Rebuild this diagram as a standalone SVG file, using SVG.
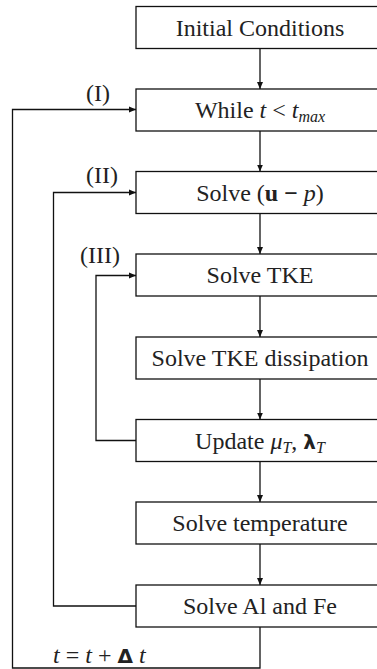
<svg xmlns="http://www.w3.org/2000/svg" width="377" height="669" viewBox="0 0 377 669">
<style>
.box{fill:#fff;stroke:#111;stroke-width:1.3}
text{font-family:"Liberation Serif","Times New Roman",serif;fill:#222}
.lbl{font-size:24px;text-anchor:middle}
.side{font-size:24px}
.it{font-style:italic}
.bf{font-weight:bold}
.sub{font-size:16px;font-style:italic}
.sym{font-family:"DejaVu Sans",sans-serif;font-weight:bold;font-size:20px}
.conn{fill:none;stroke:#111;stroke-width:1.3}
</style>
<defs>
<marker id="ah" markerWidth="8" markerHeight="8" refX="7" refY="4" orient="auto" markerUnits="userSpaceOnUse">
<path d="M0,1 L7,4 L0,7 Z" fill="#111"/>
</marker>
</defs>
<g id="connectors">
<line class="conn" x1="260" y1="48.5" x2="260" y2="89" marker-end="url(#ah)"/>
<line class="conn" x1="260" y1="131" x2="260" y2="171.5" marker-end="url(#ah)"/>
<line class="conn" x1="260" y1="213.5" x2="260" y2="254" marker-end="url(#ah)"/>
<line class="conn" x1="260" y1="296" x2="260" y2="337" marker-end="url(#ah)"/>
<line class="conn" x1="260" y1="379" x2="260" y2="419.5" marker-end="url(#ah)"/>
<line class="conn" x1="260" y1="461.5" x2="260" y2="502" marker-end="url(#ah)"/>
<line class="conn" x1="260" y1="544" x2="260" y2="585" marker-end="url(#ah)"/>
<polyline class="conn" points="260,627 260,668 12.5,668 12.5,109.5 136,109.5" marker-end="url(#ah)"/>
<polyline class="conn" points="136,606 53.5,606 53.5,192.5 136,192.5" marker-end="url(#ah)"/>
<polyline class="conn" points="136,440.5 96,440.5 96,275.5 136,275.5" marker-end="url(#ah)"/>
</g>
<g id="n1"><rect class="box" x="136" y="6.5" width="250" height="42"/><text class="lbl" x="260" y="35.5">Initial Conditions</text></g>
<g id="n2"><rect class="box" x="136" y="89" width="250" height="42"/><text class="lbl" x="260" y="118">While <tspan class="it">t</tspan> &lt; <tspan class="it">t</tspan><tspan class="sub" dy="4">max</tspan></text></g>
<g id="n3"><rect class="box" x="136" y="171.5" width="250" height="42"/><text class="lbl" x="260" y="200.5">Solve (<tspan class="bf">u −</tspan> <tspan class="it">p</tspan>)</text></g>
<g id="n4"><rect class="box" x="136" y="254" width="250" height="42"/><text class="lbl" x="260" y="283">Solve TKE</text></g>
<g id="n5"><rect class="box" x="136" y="337" width="250" height="42"/><text class="lbl" x="260" y="366">Solve TKE dissipation</text></g>
<g id="n6"><rect class="box" x="136" y="419.5" width="250" height="42"/><text class="lbl" x="260" y="448.5">Update <tspan class="it">μ</tspan><tspan class="sub" dy="4">T</tspan><tspan dy="-4">, </tspan><tspan class="sym" font-size="21">λ</tspan><tspan class="sub" dy="4">T</tspan></text></g>
<g id="n7"><rect class="box" x="136" y="502" width="250" height="42"/><text class="lbl" x="260" y="531">Solve temperature</text></g>
<g id="n8"><rect class="box" x="136" y="585" width="250" height="42"/><text class="lbl" x="260" y="614">Solve Al and Fe</text></g>
<g id="labels">
<text class="side" x="86" y="101">(I)</text>
<text class="side" x="86" y="183">(II)</text>
<text class="side" x="80" y="263">(III)</text>
<text class="side" x="53" y="663"><tspan class="it">t</tspan> = <tspan class="it">t</tspan> + <tspan class="sym">Δ</tspan> <tspan class="it">t</tspan></text>
</g>
</svg>
